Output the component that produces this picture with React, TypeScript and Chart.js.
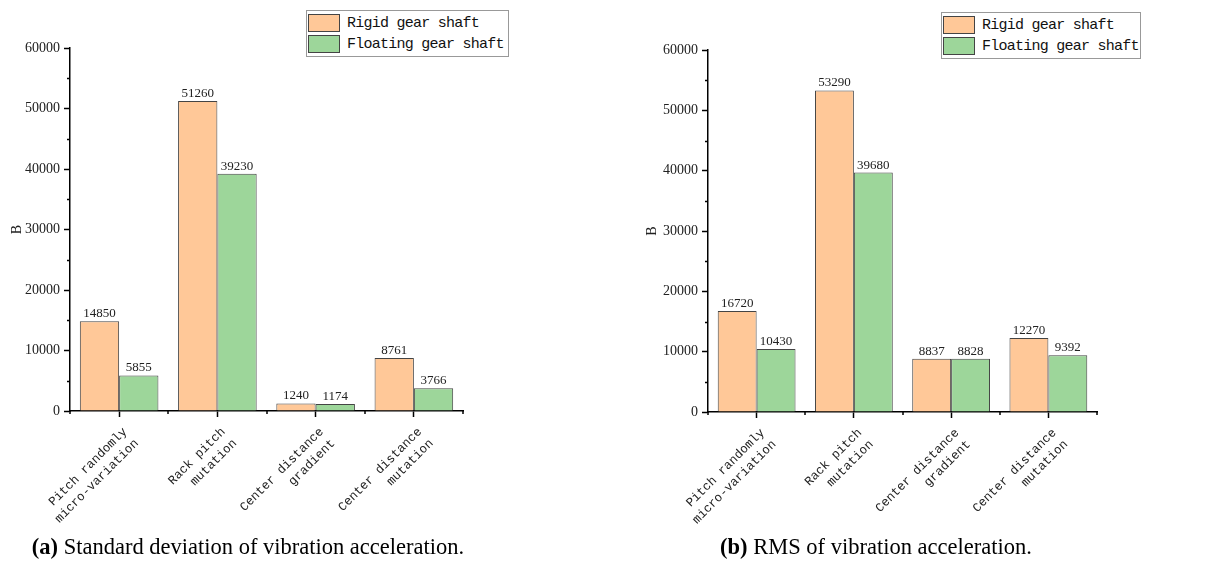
import React, { useEffect, useRef } from 'react';
import { Chart, registerables } from 'chart.js';
Chart.register(...registerables);

const categories: string[][] = [
  ['Pitch randomly', 'micro-variation'],
  ['Rack pitch', 'mutation'],
  ['Center distance', 'gradient'],
  ['Center distance', 'mutation'],
];
const seriesNames = ['Rigid gear shaft', 'Floating gear shaft'];
const stdRigid = [14850, 51260, 1240, 8761];
const stdFloating = [5855, 39230, 1174, 3766];
const rmsRigid = [16720, 53290, 8837, 12270];
const rmsFloating = [10430, 39680, 8828, 9392];
const yMin = 0;
const yMax = 60000;
const yStep = 10000;
const yAxisTitle = 'B';
const captionBold = ['(a)', '(b)'];
const captionText = [' Standard deviation of vibration acceleration.', ' RMS of vibration acceleration.'];

const ORANGE = '#FFC898';
const GREEN = '#9DD69A';
const EDGE = '#444444';

const minorTicks = {
  id: 'minorTicks',
  afterDraw(chart: any) {
    const ctx = chart.ctx;
    const x = chart.scales.x;
    const y = chart.scales.y;
    ctx.save();
    ctx.strokeStyle = '#000';
    ctx.lineWidth = 1.5;
    ctx.beginPath();
    for (let v = yMin + yStep / 2; v < yMax; v += yStep) {
      const py = Math.round(y.getPixelForValue(v)) + 0.5;
      ctx.moveTo(y.right - 3, py);
      ctx.lineTo(y.right, py);
    }
    const n = chart.data.labels.length;
    const half = (x.getPixelForValue(1) - x.getPixelForValue(0)) / 2;
    for (let i = 0; i <= n; i++) {
      const px = Math.round(x.getPixelForValue(0) - half + i * 2 * half);
      ctx.moveTo(px, x.top);
      ctx.lineTo(px, x.top + 3);
    }
    ctx.stroke();
    ctx.restore();
  },
};

const valueLabels = {
  id: 'valueLabels',
  afterDatasetsDraw(chart: any) {
    const ctx = chart.ctx;
    ctx.save();
    ctx.font = '13px "Liberation Serif"';
    ctx.fillStyle = '#222';
    ctx.textAlign = 'center';
    ctx.textBaseline = 'bottom';
    chart.data.datasets.forEach((ds: any, i: number) => {
      const meta = chart.getDatasetMeta(i);
      meta.data.forEach((bar: any, j: number) => {
        ctx.fillText(String(ds.data[j]), bar.x, bar.y - 1);
      });
    });
    ctx.restore();
  },
};

type Geo = { W: number; H: number; left: number; right: number; top: number; bottom: number; padL: number };

function BarPanel({ rigid, floating, geo }: { rigid: number[]; floating: number[]; geo: Geo }) {
  const ref = useRef<HTMLCanvasElement>(null);
  useEffect(() => {
    if (!ref.current) return;
    const chart = new Chart(ref.current, {
      type: 'bar',
      data: {
        labels: categories,
        datasets: [
          { label: seriesNames[0], data: rigid, backgroundColor: ORANGE, borderColor: EDGE, borderWidth: 1, categoryPercentage: 0.8, barPercentage: 1.0 },
          { label: seriesNames[1], data: floating, backgroundColor: GREEN, borderColor: EDGE, borderWidth: 1, categoryPercentage: 0.8, barPercentage: 1.0 },
        ],
      },
      options: {
        responsive: false,
        animation: false,
        devicePixelRatio: 1,
        layout: { padding: { left: geo.padL, right: geo.W - geo.right, top: geo.top, bottom: 0 } },
        plugins: { legend: { display: false }, tooltip: { enabled: false } },
        scales: {
          x: {
            ticks: {
              font: { family: 'Liberation Mono', size: 12.5, lineHeight: 1.3 },
              color: '#222',
              maxRotation: 45,
              minRotation: 45,
              autoSkip: false,
              padding: 7,
              labelOffset: 6,
            },
            grid: { drawOnChartArea: false, offset: false, tickLength: 6, tickColor: '#000', tickWidth: 1.5 },
            border: { color: '#000', width: 1.5 },
            afterFit: (s: any) => { s.height = geo.H - geo.bottom; },
          },
          y: {
            min: yMin,
            max: yMax,
            ticks: { stepSize: yStep, font: { family: 'Liberation Serif', size: 14 }, color: '#222', padding: 4, callback: (v: any) => String(v) },
            grid: { drawOnChartArea: false, tickLength: 6, tickColor: '#000', tickWidth: 1.5 },
            border: { color: '#000', width: 1.5 },
            title: { display: true, text: yAxisTitle, font: { family: 'Liberation Serif', size: 14 }, color: '#222', padding: { top: 5, bottom: 0 } },
            afterFit: (s: any) => { s.width = geo.left - geo.padL; },
          },
        },
      },
      plugins: [minorTicks, valueLabels],
    } as any);
    return () => chart.destroy();
  }, []);
  return <canvas ref={ref} width={geo.W} height={geo.H} style={{ display: 'block' }} />;
}

function Legend({ left, top, width }: { left: number; top: number; width: number }) {
  const colors = [ORANGE, GREEN];
  return (
    <div style={{ position: 'absolute', left, top, width, border: '1px solid #999', background: '#fff', padding: '2px 1px', boxSizing: 'border-box' }}>
      {seriesNames.map((n, i) => (
        <div key={n} style={{ display: 'flex', alignItems: 'center', height: 20, marginBottom: i === 0 ? 1 : 0 }}>
          <div style={{ width: 32, height: 18, background: colors[i], border: '1px solid #444', boxSizing: 'border-box' }} />
          <span style={{ marginLeft: 7, fontFamily: 'Liberation Mono', fontSize: 15, letterSpacing: -0.75, color: '#111', whiteSpace: 'nowrap' }}>{n}</span>
        </div>
      ))}
    </div>
  );
}

export default function App() {
  const geoA: Geo = { W: 615, H: 565, left: 70, right: 463, top: 48, bottom: 411, padL: 4 };
  const geoB: Geo = { W: 615, H: 565, left: 93, right: 482, top: 50, bottom: 412, padL: 24 };
  return (
    <div style={{ position: 'absolute', left: 0, top: 0, width: 1230, height: 565, background: '#fff', overflow: 'hidden' }}>
      <div style={{ position: 'absolute', left: 0, top: 0 }}>
        <BarPanel rigid={stdRigid} floating={stdFloating} geo={geoA} />
      </div>
      <div style={{ position: 'absolute', left: 615, top: 0 }}>
        <BarPanel rigid={rmsRigid} floating={rmsFloating} geo={geoB} />
      </div>
      <Legend left={306} top={10} width={203} />
      <Legend left={941} top={12} width={200} />
      {[248, 876].map((cx, i) => (
        <div key={i} style={{ position: 'absolute', left: cx - 300, width: 600, top: 534, textAlign: 'center', fontFamily: 'Liberation Serif', fontSize: 22.5, color: '#000', whiteSpace: 'nowrap' }}>
          <b>{captionBold[i]}</b>{captionText[i]}
        </div>
      ))}
    </div>
  );
}
